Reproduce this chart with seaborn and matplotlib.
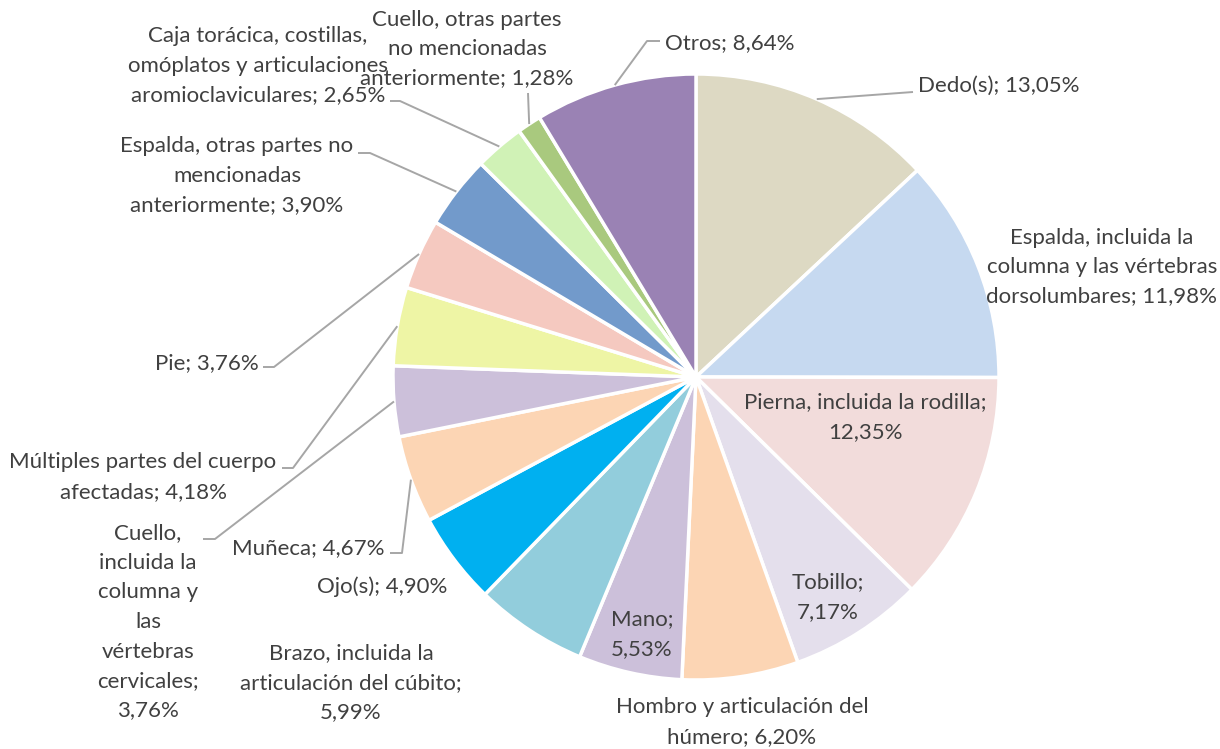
import numpy as np
import matplotlib
matplotlib.use("Agg")
import matplotlib.pyplot as plt
import seaborn as sns

# ---- data (clockwise from 12 o'clock) ----
categories = [
    "Dedo(s)",
    "Espalda, incluida la columna y las vértebras dorsolumbares",
    "Pierna, incluida la rodilla",
    "Tobillo",
    "Hombro y articulación del húmero",
    "Mano",
    "Brazo, incluida la articulación del cúbito",
    "Ojo(s)",
    "Muñeca",
    "Cuello, incluida la columna y las vértebras cervicales",
    "Múltiples partes del cuerpo afectadas",
    "Pie",
    "Espalda, otras partes no mencionadas anteriormente",
    "Caja torácica, costillas, omóplatos y articulaciones aromioclaviculares",
    "Cuello, otras partes no mencionadas anteriormente",
    "Otros",
]
values = [13.05, 11.98, 12.35, 7.17, 6.20, 5.53, 5.99, 4.90, 4.67,
          3.76, 4.18, 3.76, 3.90, 2.65, 1.28, 8.64]
colors = ["#DDD9C3", "#C6D9F0", "#F2DCDB", "#E4DFEC", "#FCD5B4", "#CCC0DA",
          "#92CDDC", "#00B0F0", "#FCD5B4", "#CCC0DA", "#EEF5A5", "#F5C9C0",
          "#729ACB", "#D0F2B6", "#A9C97E", "#9A82B4"]
# label text with manual line breaks as in the original
label_lines = [
    ["Dedo(s); 13,05%"],
    ["Espalda, incluida la", "columna y las vértebras", "dorsolumbares; 11,98%"],
    ["Pierna, incluida la rodilla;", "12,35%"],
    ["Tobillo;", "7,17%"],
    ["Hombro y articulación del", "húmero; 6,20%"],
    ["Mano;", "5,53%"],
    ["Brazo, incluida la", "articulación del cúbito;", "5,99%"],
    ["Ojo(s); 4,90%"],
    ["Muñeca; 4,67%"],
    ["Cuello,", "incluida la", "columna y", "las", "vértebras", "cervicales;", "3,76%"],
    ["Múltiples partes del cuerpo", "afectadas; 4,18%"],
    ["Pie; 3,76%"],
    ["Espalda, otras partes no", "mencionadas", "anteriormente; 3,90%"],
    ["Caja torácica, costillas,", "omóplatos y articulaciones", "aromioclaviculares; 2,65%"],
    ["Cuello, otras partes", "no mencionadas", "anteriormente; 1,28%"],
    ["Otros; 8,64%"],
]

# ---- layout (pixel units of the 1220x749 canvas, y measured from top) ----
W, H = 1220, 749
CX, CY, R = 696, 377, 303
# (x, y, ha) of text block, leader elbow points (None = no leader)
label_layout = [
    ((918, 86, "left"), [(913, 92)]),
    ((1102, 267, "center"), None),
    ((865, 417, "center"), None),
    ((828, 597, "center"), None),
    ((742, 722, "center"), None),
    ((642, 634, "center"), None),
    ((351, 683, "center"), None),
    ((382, 587, "center"), None),
    ((308, 548, "center"), [(402, 553), (390, 553)]),
    ((148, 622, "center"), [(215, 539), (203, 539)]),
    ((143, 477, "center"), [(293, 468), (282, 468)]),
    ((207, 363, "center"), [(274, 367), (263, 367)]),
    ((237, 176, "center"), [(370, 153), (358, 153)]),
    ((258, 66, "center"), [(400, 101), (390, 101)]),
    ((467, 49, "center"), [(528, 93)]),
    ((665, 43, "left"), [(647, 41), (660, 41)]),
]
LINE_H = 29.5

sns.set_theme(style="white")
plt.rcParams["font.family"] = ["Lato", "DejaVu Sans"]
TEXT_COLOR = "#404040"
LEADER_COLOR = "#A6A6A6"

fig = plt.figure(figsize=(W / 100, H / 100), dpi=100)
ax = fig.add_axes([0, 0, 1, 1])

palette = sns.color_palette(colors)
wedges, _ = ax.pie(values, colors=palette, startangle=90, counterclock=False,
                   center=(CX, H - CY), radius=R,
                   wedgeprops=dict(edgecolor="white", linewidth=2.5))
ax.set_xlim(0, W)
ax.set_ylim(0, H)
ax.set_aspect("equal")
ax.axis("off")

for wedge, lines, (tpos, elbows) in zip(wedges, label_lines, label_layout):
    tx, ty, ha = tpos
    n = len(lines)
    for i, line in enumerate(lines):
        y = ty + (i - (n - 1) / 2) * LINE_H
        ax.text(tx, H - y, line, ha=ha, va="center", fontsize=16,
                color=TEXT_COLOR)
    if elbows:
        ang = np.deg2rad((wedge.theta1 + wedge.theta2) / 2)
        px = [CX + R * np.cos(ang)] + [e[0] for e in elbows]
        py = [(H - CY) + R * np.sin(ang)] + [H - e[1] for e in elbows]
        ax.plot(px, py, color=LEADER_COLOR, lw=1.4, solid_capstyle="butt")

fig.savefig("out.png", dpi=100)
